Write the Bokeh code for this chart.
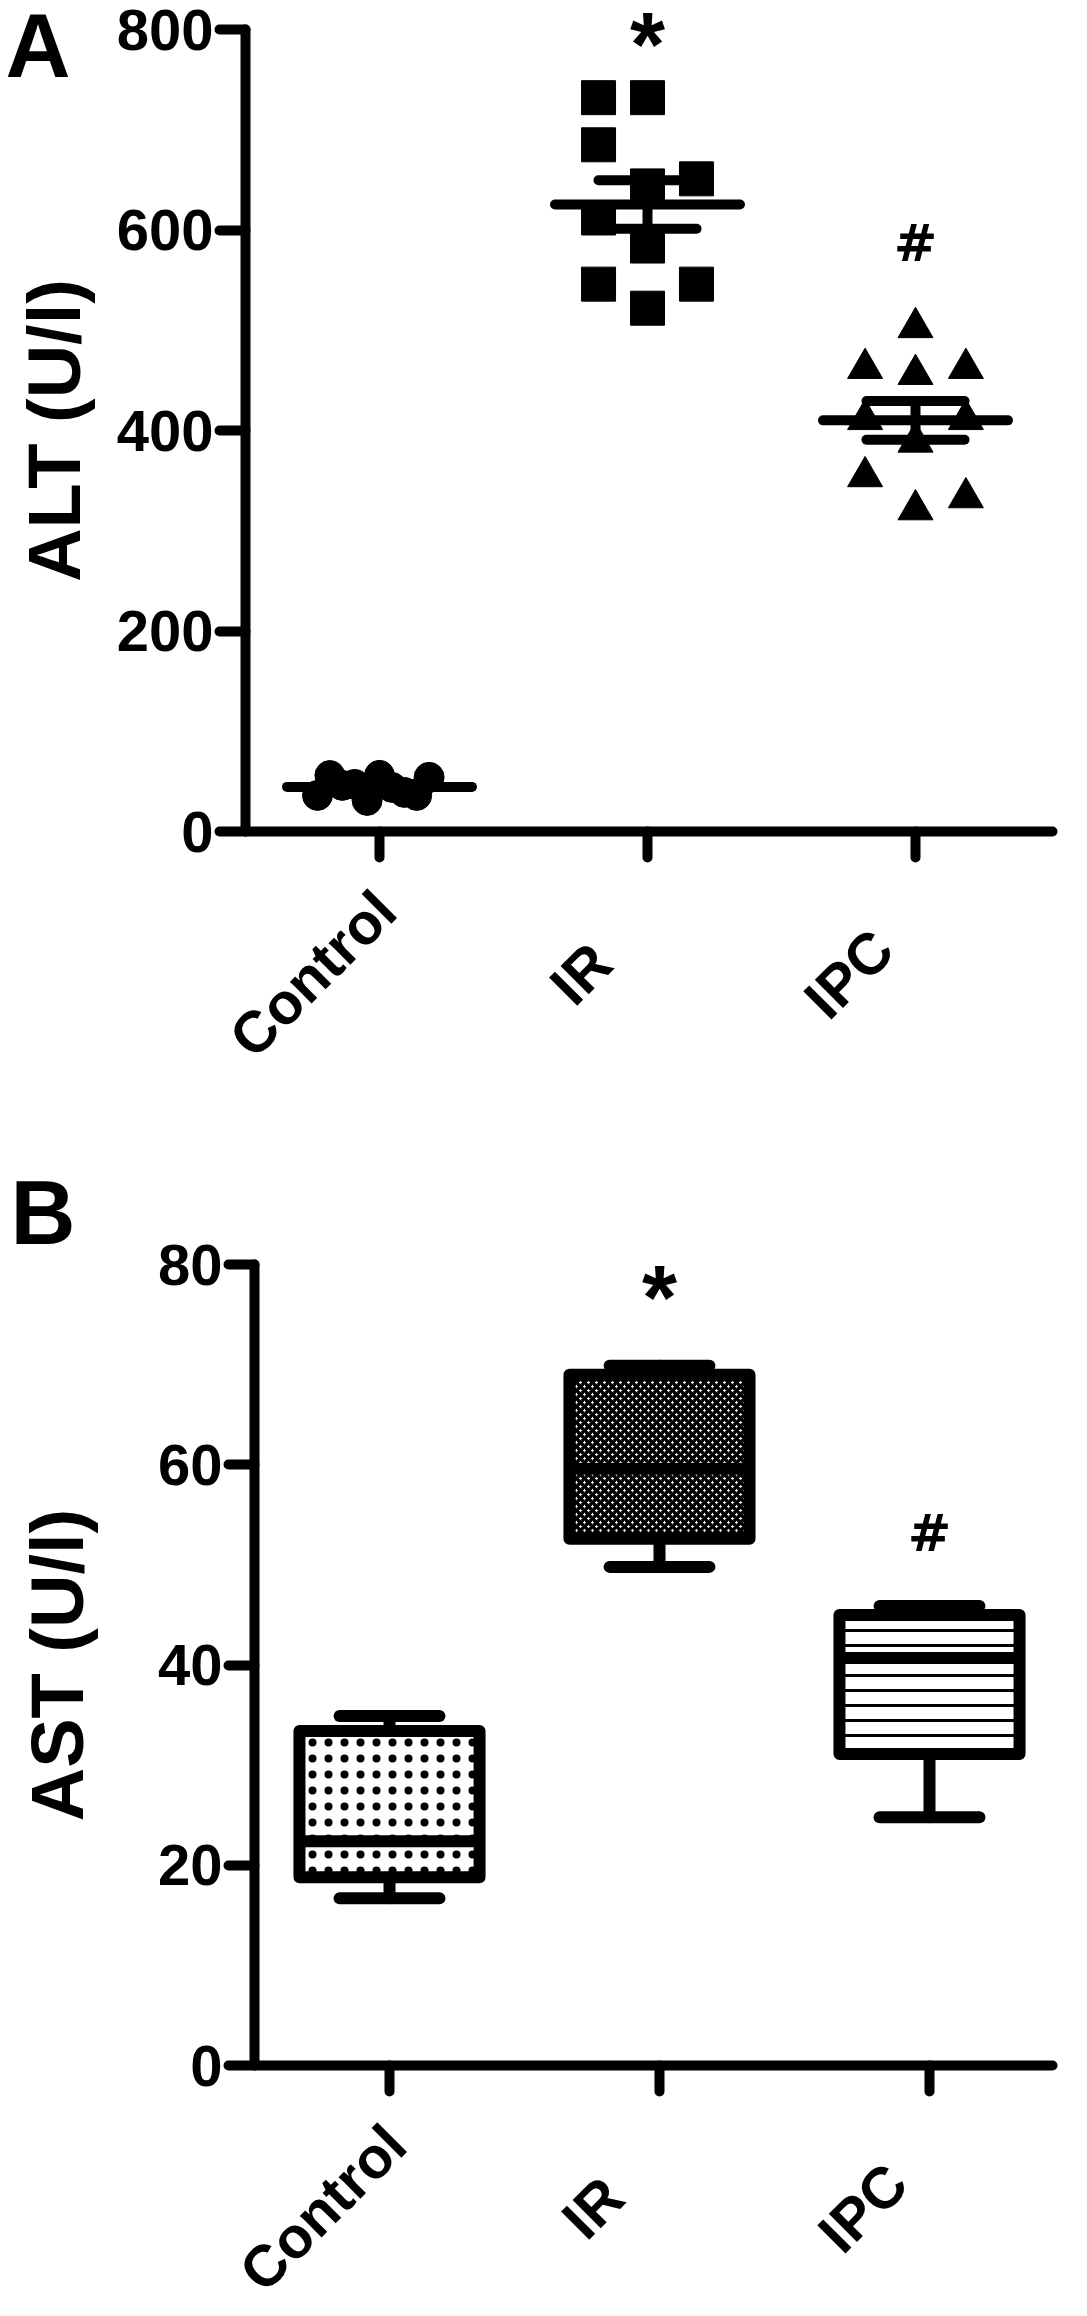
import math
import numpy as np
from bokeh.plotting import figure
from bokeh.layouts import column
from bokeh.models import Range1d, FixedTicker, Label, ColumnDataSource
from bokeh.core.properties import value
from bokeh.embed import file_html
from bokeh.resources import INLINE

# ---------------- data ----------------
groups = ["Control", "IR", "IPC"]
group_pos = [1, 2, 3]

# Panel A: ALT (U/l), individual animals
alt_control = [56, 31, 44, 47, 39, 46, 36, 55.8, 54, 36]
alt_ir = [644, 584, 522, 732, 685, 732, 612, 651, 546, 546]
alt_ipc = [456, 388.5, 321, 502.7, 462, 462, 411, 411, 354, 333]
alt_ticks = [0, 200, 400, 600, 800]

# Panel B: AST (U/l), box-and-whisker summary
ast_min = [16.7, 49.8, 24.8]
ast_q1 = [18.8, 52.6, 31.1]
ast_median = [22.4, 59.6, 40.7]
ast_q3 = [33.4, 69.0, 45.0]
ast_max = [34.9, 69.9, 45.9]
ast_ticks = [0, 20, 40, 60, 80]

sig_ir = "*"
sig_ipc = "#"

FONT = "Liberation Sans"
W = 1071


def make_panel(height, ax_left_px, ax_top_px, ax_bottom_px, px_per_cat, x_end_cat,
               y_max, yticks, ylabel, label_standoff):
    """Figure whose frame fills the canvas; axes are pinned at x=0.5 / y=0."""
    ppy = (ax_bottom_px - ax_top_px) / y_max
    x0 = 0.5 - ax_left_px / px_per_cat
    x1 = x0 + W / px_per_cat
    y1 = y_max + ax_top_px / ppy
    y0 = y1 - height / ppy
    p = figure(width=W, height=height, x_range=Range1d(x0, x1), y_range=Range1d(y0, y1),
               output_backend="svg", toolbar_location=None, min_border=0,
               min_border_left=0, min_border_right=0, min_border_top=0, min_border_bottom=0)
    p.outline_line_color = None
    p.xgrid.visible = False
    p.ygrid.visible = False
    for ax in (p.xaxis[0], p.yaxis[0]):
        ax.axis_line_width = 10
        ax.axis_line_cap = "round"
        ax.major_tick_line_width = 10
        ax.major_tick_line_cap = "round"
        ax.major_tick_in = 0
        ax.major_tick_out = 26
        ax.minor_tick_line_color = None
        ax.major_label_text_font = FONT
        ax.major_label_text_font_style = "bold"
        ax.major_label_text_font_size = "58px"
        ax.major_label_text_color = "black"
        ax.axis_line_color = "black"
        ax.major_tick_line_color = "black"
    p.yaxis.fixed_location = 0.5
    p.yaxis.bounds = (0, y_max)
    p.yaxis.ticker = FixedTicker(ticks=yticks)
    p.yaxis.major_label_standoff = 6
    p.yaxis.axis_label = ylabel
    p.yaxis.axis_label_text_font = FONT
    p.yaxis.axis_label_text_font_style = "bold"
    p.yaxis.axis_label_text_font_size = "74px"
    p.yaxis.axis_label_text_color = "black"
    p.yaxis.axis_label_standoff = label_standoff
    p.xaxis.fixed_location = 0
    p.xaxis.bounds = (0.5, x_end_cat)
    p.xaxis.ticker = FixedTicker(ticks=group_pos)
    # category names are drawn centred under each tick (see below)
    p.xaxis.major_label_overrides = {g: "" for g in group_pos}
    # rotated category names, centred at a fixed offset below each tick
    p.text(x=group_pos, y=[0] * len(group_pos), text=groups, angle=math.pi / 4,
           x_offset=-67, y_offset=142, text_font=value(FONT), text_font_style="bold",
           text_font_size=value("58px"), text_color="black", text_align="center",
           text_baseline="middle")
    return p, ppy, x0, y1


def swarm_offsets(vals, marker_px, px_per_unit_y, px_per_unit_x, max_half_px=62):
    thr = 1.25 * marker_px / px_per_unit_y
    order = [0]
    for k in range(1, 12):
        order += [-k, k]
    placed = []
    for v in vals:
        for s in order:
            if all(abs(v - pv) >= thr for pv, ps in placed if ps == s):
                placed.append((v, s))
                break
    slots = [s for _, s in placed]
    mx = max(1, max(abs(s) for s in slots))
    spacing_px = min(1.44 * marker_px, max_half_px / mx)
    return [s * spacing_px / px_per_unit_x for s in slots]


def text_label(p, x, y, text, size, align="center", font=FONT):
    p.add_layout(Label(x=x, y=y, text=text, text_font=font, text_font_style="bold",
                       text_font_size=size, text_color="black", text_align=align,
                       text_baseline="alphabetic"))


# ---------------- Panel A ----------------
A_H = 1142
A_ppx = 268
pA, A_ppy, A_x0, A_y1 = make_panel(A_H, 245, 29, 831, A_ppx, 3.51, 800,
                                   alt_ticks, "ALT (U/l)", 18)

markers = ["circle", "square", "triangle"]
msizes = [30, 34, 35]
alt_groups = [alt_control, alt_ir, alt_ipc]
for gx, vals, mk, ms in zip(group_pos, alt_groups, markers, msizes):
    offs = swarm_offsets(vals, ms, A_ppy, A_ppx)
    src = ColumnDataSource(dict(x=[gx + o for o in offs], y=vals))
    pA.scatter("x", "y", source=src, marker=mk, size=ms,
               fill_color="black", line_color="black", line_width=1)

means = [float(np.mean(v)) for v in alt_groups]
sems = [float(np.std(v, ddof=1) / math.sqrt(len(v))) for v in alt_groups]
mean_hw = 0.345
cap_hw = 0.183
seg = dict(x0=[], y0=[], x1=[], y1=[])
for gx, m, s in zip(group_pos, means, sems):
    for x0, y0, x1, y1 in [(gx - mean_hw, m, gx + mean_hw, m),
                           (gx, m - s, gx, m + s),
                           (gx - cap_hw, m + s, gx + cap_hw, m + s),
                           (gx - cap_hw, m - s, gx + cap_hw, m - s)]:
        seg["x0"].append(x0); seg["y0"].append(y0)
        seg["x1"].append(x1); seg["y1"].append(y1)
pA.segment("x0", "y0", "x1", "y1", source=ColumnDataSource(seg),
           line_color="black", line_width=10, line_cap="round")

text_label(pA, 2, 785, sig_ir, "90px")
text_label(pA, 3, 587, sig_ipc, "52px", font="DejaVu Sans")
text_label(pA, A_x0 + 5 / A_ppx, A_y1 - 45 / A_ppy, "A", "90px", align="left")

# ---------------- Panel B ----------------
B_H = 1158
B_ppx = 270
pB, B_ppy, B_x0, B_y1 = make_panel(B_H, 254, 122, 923, B_ppx, 3.456, 80,
                                   ast_ticks, "AST (U/l)", 56)

box_w = 0.667
wcap_hw = 0.185
wsk = dict(x0=[], y0=[], x1=[], y1=[])
for gx, lo, q1, q3, hi in zip(group_pos, ast_min, ast_q1, ast_q3, ast_max):
    for x0, y0, x1, y1 in [(gx, q3, gx, hi), (gx, q1, gx, lo),
                           (gx - wcap_hw, hi, gx + wcap_hw, hi),
                           (gx - wcap_hw, lo, gx + wcap_hw, lo)]:
        wsk["x0"].append(x0); wsk["y0"].append(y0)
        wsk["x1"].append(x1); wsk["y1"].append(y1)
pB.segment("x0", "y0", "x1", "y1", source=ColumnDataSource(wsk),
           line_color="black", line_width=12, line_cap="round")

hatches = [("dot", 16, 1), ("diagonal_cross", 8, 3.5), ("horizontal_line", 15, 3)]
for gx, q1, q3, (hp, hs, hw) in zip(group_pos, ast_q1, ast_q3, hatches):
    pB.vbar(x=[gx], width=box_w, bottom=[q1], top=[q3], fill_color="white",
            line_color="black", line_width=12, line_join="round",
            hatch_pattern=hp, hatch_scale=hs, hatch_weight=hw, hatch_color="black")

med = dict(x0=[g - box_w / 2 for g in group_pos], x1=[g + box_w / 2 for g in group_pos],
           y=ast_median)
pB.segment("x0", "y", "x1", "y", source=ColumnDataSource(med),
           line_color="black", line_width=12)

text_label(pB, 2, 76.7, sig_ir, "90px")
text_label(pB, 3, 53.2, sig_ipc, "52px", font="DejaVu Sans")
text_label(pB, B_x0 + 10 / B_ppx, B_y1 - 70 / B_ppy, "B", "90px", align="left")

layout = column(pA, pB, spacing=0)
open("out.html", "w").write(file_html(layout, INLINE))
